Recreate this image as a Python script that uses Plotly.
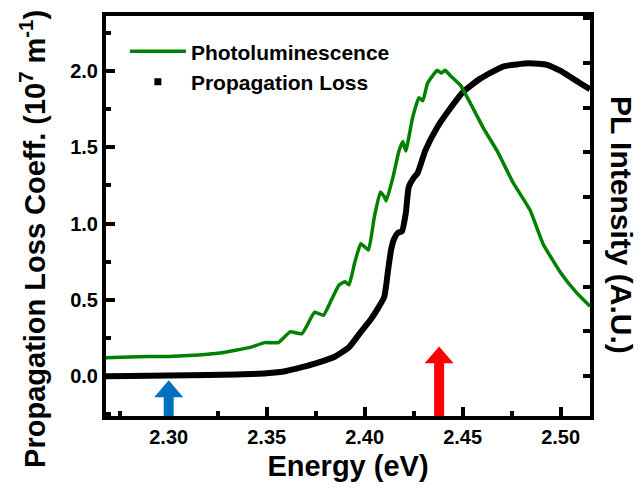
import plotly.graph_objects as go

# Propagation loss coefficient (10^7 m^-1) vs photon energy (eV)
loss_energy = [2.268, 2.280, 2.300, 2.320, 2.335, 2.350, 2.360, 2.368, 2.375, 2.385,
               2.392, 2.398, 2.403, 2.407, 2.410, 2.412, 2.4135, 2.415, 2.417, 2.419,
               2.421, 2.4225, 2.425, 2.427, 2.431, 2.437, 2.444, 2.450, 2.459, 2.471,
               2.484, 2.493, 2.500, 2.505, 2.510, 2.515]
loss_coeff = [0.000, 0.002, 0.005, 0.008, 0.012, 0.020, 0.035, 0.060, 0.085, 0.130,
              0.190, 0.290, 0.370, 0.450, 0.520, 0.700, 0.830, 0.900, 0.940, 0.950,
              1.070, 1.240, 1.300, 1.330, 1.480, 1.630, 1.760, 1.860, 1.950, 2.030,
              2.050, 2.040, 2.000, 1.960, 1.920, 1.880]

# Photoluminescence spectrum (arbitrary units, right axis)
pl_energy = [2.268, 2.280, 2.290, 2.300, 2.310, 2.317, 2.325, 2.334, 2.342, 2.349,
             2.356, 2.362, 2.368, 2.3745, 2.379, 2.383, 2.387, 2.390, 2.392, 2.395,
             2.398, 2.400, 2.402, 2.405, 2.408, 2.410, 2.411, 2.4145, 2.4175, 2.4195,
             2.421, 2.4245, 2.4277, 2.4297, 2.432, 2.435, 2.437, 2.439, 2.441, 2.444,
             2.449, 2.454, 2.4606, 2.4676, 2.4758, 2.4844, 2.491, 2.500, 2.508, 2.515]
pl_intensity = [0.41, 0.43, 0.44, 0.44, 0.46, 0.48, 0.51, 0.58, 0.65, 0.75,
                0.75, 0.99, 0.95, 1.43, 1.36, 1.70, 2.04, 2.11, 2.04, 2.55,
                2.96, 2.89, 2.82, 3.57, 4.11, 4.01, 3.91, 4.45, 5.03, 5.24,
                5.03, 5.78, 6.22, 6.15, 6.53, 6.73, 6.83, 6.77, 6.83, 6.70,
                6.49, 6.09, 5.54, 5.03, 4.32, 3.71, 2.96, 2.31, 1.87, 1.56]

# Marker arrows on the energy axis
arrow_energy = [2.30, 2.438]
arrow_tip = [-0.026, 0.196]
arrow_color = ["#0070C0", "#FF0000"]

FONT = "Liberation Sans, Arial, sans-serif"
Y_MIN, Y_MAX = -0.26, 2.36

fig = go.Figure()

fig.add_trace(go.Scatter(
    x=loss_energy, y=loss_coeff, mode="lines", showlegend=False,
    line=dict(color="black", width=6, shape="spline", smoothing=0.5),
    hoverinfo="skip"))

fig.add_trace(go.Scatter(
    x=pl_energy, y=pl_intensity, yaxis="y2", mode="lines",
    name="Photoluminescence",
    line=dict(color="#008000", width=3.5, shape="spline", smoothing=0.4)))

fig.add_trace(go.Scatter(
    x=[None], y=[None], mode="markers", name="Propagation Loss",
    marker=dict(symbol="square", size=7, color="black")))

# block arrows: shaft from the bottom frame up to a triangular head
for e, tip, col in zip(arrow_energy, arrow_tip, arrow_color):
    yb = tip - 0.111
    w, h = 5, 14.5
    path = (f"M {-w},{Y_MIN} L {w},{Y_MIN} L {w},{yb} L {h},{yb} "
            f"L 0,{tip} L {-h},{yb} L {-w},{yb} Z")
    fig.add_shape(type="path", path=path, xref="x", yref="y",
                  xsizemode="pixel", xanchor=e,
                  fillcolor=col, line=dict(width=0), layer="above")

tick_font = dict(family=FONT, size=20, color="black", weight="bold")
title_font = dict(family=FONT, size=29, color="black", weight="bold")

axis_common = dict(showline=True, linewidth=4, linecolor="black",
                   ticks="inside", tickwidth=3.5, tickcolor="black",
                   showgrid=False, zeroline=False, tickfont=tick_font)

fig.update_layout(
    width=639, height=490,
    margin=dict(l=106, r=49, t=16, b=72),
    plot_bgcolor="white", paper_bgcolor="white",
    xaxis=dict(range=[2.268, 2.515], tick0=2.30, dtick=0.05, tickformat=".2f",
               ticklen=9, mirror=True,
               minor=dict(ticks="inside", ticklen=5, tickwidth=3.5,
                          tickcolor="black", dtick=0.025, tick0=2.275),
               title=dict(text="Energy (eV)", font=title_font, standoff=10),
               **axis_common),
    yaxis=dict(range=[Y_MIN, Y_MAX], tick0=0, dtick=0.5, tickformat=".1f",
               ticklen=9, mirror=True,
               minor=dict(ticks="inside", ticklen=5, tickwidth=3.5,
                          tickcolor="black", dtick=0.25, tick0=0),
               **axis_common),
    yaxis2=dict(overlaying="y", side="right", range=[-0.889, 8.044],
                tick0=0, dtick=1, ticklen=7, showticklabels=False,
                **{k: v for k, v in axis_common.items() if k != "tickfont"}),
    legend=dict(x=0.039, y=0.962, xanchor="left", yanchor="top",
                bgcolor="rgba(0,0,0,0)", borderwidth=0,
                font=dict(family=FONT, size=21, color="black", weight="bold"),
                itemwidth=56, tracegroupgap=0),
    annotations=[
        dict(text="Propagation Loss Coeff. (10<sup>7</sup> m<sup>-1</sup>)",
             textangle=-90, xref="paper", yref="paper",
             x=(33 - 106) / 484, y=(418 - 240) / 402,
             xanchor="center", yanchor="middle", showarrow=False,
             font=title_font),
        dict(text="PL Intensity (A.U.)", textangle=90,
             xref="paper", yref="paper",
             x=(621 - 106) / 484, y=(418 - 226) / 402,
             xanchor="center", yanchor="middle", showarrow=False,
             font=dict(family=FONT, size=30, color="black", weight="bold")),
    ],
)

fig.write_html("out.html")
